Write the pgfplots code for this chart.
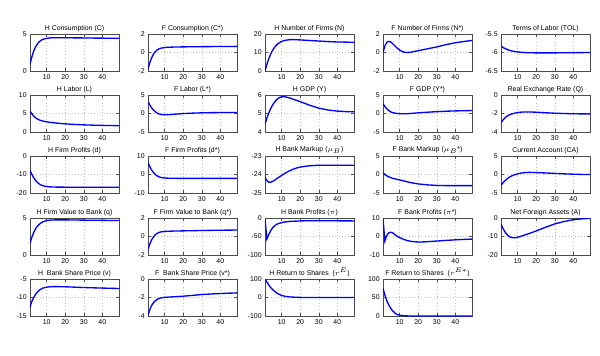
\documentclass[border=0pt]{standalone}
\usepackage{fontspec}
\setmainfont{Liberation Sans}
\usepackage{pgfplots}
\pgfplotsset{compat=1.18}
\pgfplotsset{
  sub/.style={
    width=66.75pt, height=27.75pt, scale only axis, anchor=north west,
    xmin=1, xmax=49, xtick={10,20,30,40},
    grid=major, grid style={dotted, gray!50, line width=0.4pt},
    axis line style={gray!60!black, line width=0.5pt},
    tick style={gray!60!black, line width=0.4pt},
    major tick length=2pt, tick align=inside,
    every tick label/.append style={font=\fontsize{5.2}{6}\selectfont},
    xticklabel style={yshift=1pt},
    yticklabel style={xshift=1pt},
    every axis title shift=0.5pt,
    title style={font=\fontsize{5.2}{6}\selectfont, inner sep=1pt},
    /pgf/number format/assume math mode=true,
    no markers,
    cycle list={{color=blue, smooth, mark=none}},
    every axis plot/.append style={line width=1pt},
  }
}
\begin{document}
\begin{tikzpicture}
\path[use as bounding box] (0,0) rectangle (450pt,-266.25pt);
% Row 1
\begin{axis}[sub, at={(22.5pt,-25.5pt)}, title={H Consumption (C)}, ymin=0, ymax=5, ytick={0,5}]
\addplot coordinates {(1,0.9)(2,1.9)(3,2.7)(4,3.25)(5,3.65)(6,3.95)(7,4.15)(8,4.28)(10,4.42)(12,4.48)(15,4.5)(20,4.5)(25,4.48)(30,4.47)(35,4.45)(40,4.44)(45,4.43)(49,4.42)};
\end{axis}
\begin{axis}[sub, at={(111pt,-25.5pt)}, title={F Consumption (C*)}, ymin=-2, ymax=2, ytick={-2,0,2}]
\addplot coordinates {(1,-1.8)(2,-1.1)(3,-0.55)(4,-0.15)(5,0.1)(6,0.28)(7,0.4)(8,0.47)(10,0.54)(12,0.57)(15,0.59)(20,0.61)(30,0.63)(40,0.65)(49,0.66)};
\end{axis}
\begin{axis}[sub, at={(198.75pt,-25.5pt)}, title={H Number of Firms (N)}, ymin=0, ymax=20, ytick={0,10,20}]
\addplot coordinates {(1,0)(2,3.5)(3,6.5)(4,9)(5,11)(6,12.6)(7,13.8)(8,14.8)(10,16)(12,16.6)(14,16.9)(16,17)(20,16.8)(25,16.5)(30,16.2)(35,15.9)(40,15.7)(45,15.6)(49,15.5)};
\end{axis}
\begin{axis}[sub, at={(287.25pt,-25.5pt)}, title={F Number of Firms (N*)}, ymin=-2, ymax=2, ytick={-2,0,2}]
\addplot coordinates {(1,0.0)(2,0.7)(3,1.1)(4,1.2)(5,1.15)(6,1.0)(8,0.6)(10,0.25)(12,0.05)(14,0.0)(16,0.03)(20,0.2)(25,0.4)(30,0.6)(35,0.85)(40,1.05)(45,1.2)(49,1.3)};
\end{axis}
\begin{axis}[sub, at={(375.75pt,-25.5pt)}, title={Terms of Labor (TOL)}, ymin=-6.5, ymax=-5.5, ytick={-6.5,-6,-5.5}]
\addplot coordinates {(1,-5.83)(2,-5.86)(3,-5.89)(4,-5.91)(5,-5.93)(6,-5.95)(8,-5.97)(10,-5.985)(12,-5.995)(15,-6.005)(20,-6.01)(25,-6.01)(30,-6.01)(35,-6.005)(40,-6.005)(49,-6.0)};
\end{axis}
% Row 2
\begin{axis}[sub, at={(22.5pt,-71.25pt)}, title={H Labor (L)}, ymin=0, ymax=10, ytick={0,5,10}]
\addplot coordinates {(1,5.6)(2,4.9)(3,4.3)(4,3.85)(5,3.5)(6,3.25)(8,2.95)(10,2.75)(12,2.6)(15,2.42)(20,2.2)(25,2.05)(30,1.93)(35,1.85)(40,1.79)(45,1.74)(49,1.72)};
\end{axis}
\begin{axis}[sub, at={(111pt,-71.25pt)}, title={F Labor (L*)}, ymin=-5, ymax=5, ytick={-5,0,5}]
\addplot coordinates {(1,3.2)(2,2.3)(3,1.5)(4,0.9)(5,0.45)(6,0.1)(7,-0.12)(8,-0.25)(10,-0.35)(12,-0.33)(15,-0.2)(20,-0.02)(25,0.1)(30,0.18)(35,0.23)(40,0.26)(49,0.28)};
\end{axis}
\begin{axis}[sub, at={(198.75pt,-71.25pt)}, title={H GDP (Y)}, ymin=4, ymax=6, ytick={4,5,6}]
\addplot coordinates {(1,4.42)(2,4.75)(3,5.02)(4,5.25)(5,5.44)(6,5.6)(7,5.72)(8,5.81)(9,5.87)(10,5.9)(11,5.91)(12,5.9)(14,5.85)(16,5.78)(18,5.71)(20,5.64)(25,5.45)(30,5.29)(35,5.19)(40,5.13)(45,5.1)(49,5.09)};
\end{axis}
\begin{axis}[sub, at={(287.25pt,-71.25pt)}, title={F GDP (Y*)}, ymin=-5, ymax=5, ytick={-5,0,5}]
\addplot coordinates {(1,2.6)(2,1.9)(3,1.3)(4,0.85)(5,0.5)(6,0.25)(8,0.05)(10,-0.05)(12,-0.08)(14,-0.05)(17,0.05)(20,0.18)(25,0.35)(30,0.5)(35,0.62)(40,0.7)(45,0.76)(49,0.8)};
\end{axis}
\begin{axis}[sub, at={(375.75pt,-71.25pt)}, title={Real Exchange Rate (Q)}, ymin=-4, ymax=0, ytick={-4,-2,0}]
\addplot coordinates {(1,-3.0)(2,-2.72)(3,-2.5)(4,-2.33)(5,-2.2)(6,-2.1)(8,-1.98)(10,-1.9)(12,-1.85)(14,-1.83)(16,-1.83)(20,-1.86)(25,-1.92)(30,-1.97)(35,-2.0)(40,-2.03)(45,-2.04)(49,-2.05)};
\end{axis}
% Row 3
\begin{axis}[sub, at={(22.5pt,-117pt)}, title={H Firm Profits (d)}, ymin=-20, ymax=0, ytick={-20,-10,0}]
\addplot coordinates {(1,-7.9)(2,-10)(3,-11.8)(4,-13.2)(5,-14.3)(6,-15.1)(7,-15.7)(8,-16.1)(10,-16.5)(12,-16.7)(15,-16.8)(20,-16.85)(30,-16.85)(40,-16.85)(49,-16.85)};
\end{axis}
\begin{axis}[sub, at={(111pt,-117pt)}, title={F Firm Profits (d*)}, ymin=-10, ymax=10, ytick={-10,0,10}]
\addplot coordinates {(1,6.4)(2,4.2)(3,2.4)(4,1.0)(5,-0.1)(6,-0.8)(7,-1.3)(8,-1.6)(10,-1.9)(12,-2.0)(15,-2.05)(20,-2.1)(30,-2.1)(40,-2.1)(49,-2.1)};
\end{axis}
\begin{axis}[sub, at={(198.75pt,-117pt)}, title={H Bank Markup ($\mu_B$)}, ymin=-25, ymax=-23, ytick={-25,-24,-23}]
\addplot coordinates {(1,-24.16)(2,-24.33)(3,-24.41)(4,-24.42)(5,-24.38)(6,-24.32)(8,-24.18)(10,-24.05)(12,-23.92)(14,-23.81)(16,-23.72)(18,-23.65)(20,-23.6)(23,-23.55)(26,-23.52)(30,-23.5)(35,-23.5)(40,-23.5)(49,-23.5)};
\end{axis}
\begin{axis}[sub, at={(287.25pt,-117pt)}, title={F Bank Markup ($\mu_B$*)}, ymin=-5, ymax=5, ytick={-5,0,5}]
\addplot coordinates {(1,0.5)(2,0.0)(3,-0.35)(4,-0.6)(5,-0.8)(6,-0.98)(8,-1.25)(10,-1.45)(12,-1.7)(15,-2.1)(20,-2.55)(25,-2.8)(30,-2.95)(35,-3.0)(40,-3.0)(49,-3.0)};
\end{axis}
\begin{axis}[sub, at={(375.75pt,-117pt)}, title={Current Account (CA)}, ymin=-5, ymax=5, ytick={-5,0,5}]
\addplot coordinates {(1,-2.9)(2,-2.3)(3,-1.75)(4,-1.3)(5,-0.9)(6,-0.58)(7,-0.32)(8,-0.12)(10,0.18)(12,0.4)(14,0.52)(16,0.57)(18,0.56)(20,0.53)(25,0.42)(30,0.3)(35,0.18)(40,0.08)(45,0.02)(49,0.0)};
\end{axis}
% Row 4
\begin{axis}[sub, at={(22.5pt,-163.5pt)}, title={H Firm Value to Bank (q)}, ymin=0, ymax=5, ytick={0,5}]
\addplot coordinates {(1,1.55)(2,2.4)(3,3.05)(4,3.55)(5,3.9)(6,4.15)(7,4.35)(8,4.5)(10,4.65)(12,4.72)(15,4.75)(20,4.75)(25,4.73)(30,4.71)(35,4.7)(40,4.68)(49,4.66)};
\end{axis}
\begin{axis}[sub, at={(111pt,-163.5pt)}, title={F Firm Value to Bank (q*)}, ymin=-2, ymax=2, ytick={-2,0,2}]
\addplot coordinates {(1,-1.4)(2,-0.8)(3,-0.35)(4,-0.02)(5,0.2)(6,0.35)(7,0.44)(8,0.5)(10,0.55)(12,0.57)(15,0.59)(20,0.61)(30,0.65)(40,0.68)(49,0.7)};
\end{axis}
\begin{axis}[sub, at={(198.75pt,-163.5pt)}, title={H Bank Profits ($\pi$)}, ymin=-100, ymax=0, ytick={-100,-50,0}]
\addplot coordinates {(1,-3)(2,-57)(3,-45)(4,-35)(5,-27)(6,-22)(7,-18)(8,-15.5)(10,-12.5)(12,-10.5)(15,-9)(20,-7.8)(25,-7.4)(30,-7.3)(35,-7.4)(40,-7.6)(49,-7.9)};
\end{axis}
\begin{axis}[sub, at={(287.25pt,-163.5pt)}, title={F Bank Profits ($\pi$*)}, ymin=-10, ymax=10, ytick={-10,0,10}]
\addplot coordinates {(1,9.6)(2,-2.5)(3,0.5)(4,1.9)(5,2.3)(6,2.1)(7,1.4)(8,0.6)(9,-0.1)(10,-0.6)(12,-1.5)(14,-2.2)(16,-2.6)(18,-2.85)(20,-2.95)(22,-2.95)(25,-2.8)(30,-2.45)(35,-2.1)(40,-1.8)(45,-1.55)(49,-1.4)};
\end{axis}
\begin{axis}[sub, at={(375.75pt,-163.5pt)}, title={Net Foreign Assets (A)}, ymin=-20, ymax=0, ytick={-20,-10,0}]
\addplot coordinates {(1,-3.2)(2,-5.5)(3,-7.3)(4,-8.7)(5,-9.7)(6,-10.3)(7,-10.6)(8,-10.7)(9,-10.6)(10,-10.4)(12,-9.8)(15,-8.8)(20,-7.0)(25,-5.0)(30,-3.2)(35,-1.9)(40,-0.9)(45,-0.4)(49,-0.2)};
\end{axis}
% Row 5
\begin{axis}[sub, at={(22.5pt,-209.25pt)}, title={H\ \ Bank Share Price (v)}, ymin=-15, ymax=-5, ytick={-15,-10,-5}]
\addplot coordinates {(1,-12.6)(2,-11.1)(3,-10)(4,-9.15)(5,-8.5)(6,-8.05)(7,-7.7)(8,-7.45)(10,-7.2)(12,-7.08)(15,-7.05)(20,-7.1)(25,-7.2)(30,-7.3)(35,-7.38)(40,-7.45)(45,-7.52)(49,-7.56)};
\end{axis}
\begin{axis}[sub, at={(111pt,-209.25pt)}, title={F\ \ Bank Share Price (v*)}, ymin=-4, ymax=0, ytick={-4,-2,0}]
\addplot coordinates {(1,-3.93)(2,-3.3)(3,-2.85)(4,-2.55)(5,-2.35)(6,-2.2)(7,-2.1)(8,-2.04)(10,-1.98)(15,-1.92)(20,-1.86)(25,-1.77)(30,-1.68)(35,-1.62)(40,-1.57)(45,-1.53)(49,-1.5)};
\end{axis}
\begin{axis}[sub, at={(198.75pt,-209.25pt)}, title={H Return to Shares\ \ ($r^E$)}, ymin=-100, ymax=100, ytick={-100,0,100}]
\addplot coordinates {(1,100)(2,84)(3,68)(4,55)(5,44)(6,35)(7,27)(8,20)(10,11)(12,6)(15,2.5)(20,0.5)(25,0)(30,0)(49,0)};
\end{axis}
\begin{axis}[sub, at={(287.25pt,-209.25pt)}, title={F Return to Shares\ \ ($r^{E*}$)}, ymin=0, ymax=100, ytick={0,50,100}]
\addplot coordinates {(1,75)(2,57)(3,42)(4,31)(5,22)(6,15)(7,10)(8,6)(9,3.5)(10,2)(12,0.7)(15,0.1)(20,0)(49,0)};
\end{axis}
\end{tikzpicture}
\end{document}
